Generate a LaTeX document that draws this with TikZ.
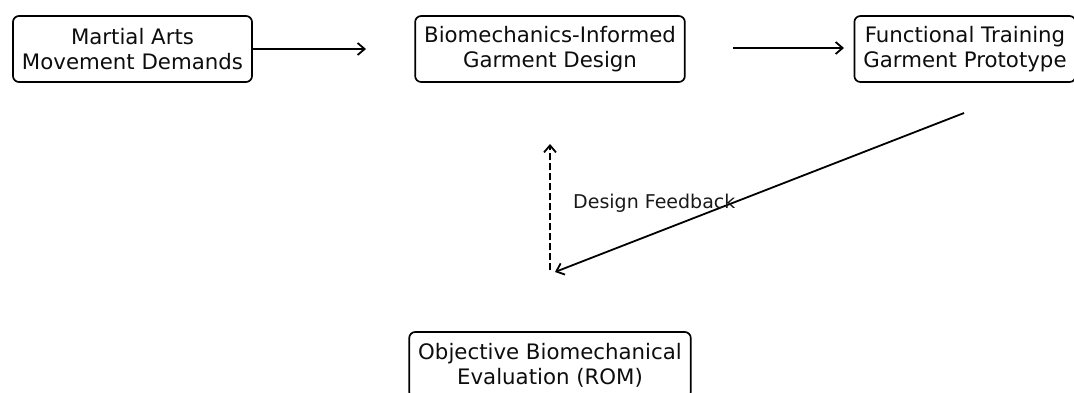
\documentclass[tikz,border=0pt]{standalone}
\usepackage{fontspec}
\setmainfont{DejaVu Sans}
\usetikzlibrary{arrows.meta}
\tikzset{
  box/.style={draw, line width=1.7pt, rounded corners=6pt, align=center,
    minimum height=66pt, inner xsep=9pt, inner ysep=4pt,
    font=\fontsize{21.3}{25}\selectfont, text=black!95},
  flow/.style={line width=1.8pt, -{Straight Barb[length=7pt,width=12pt,line width=1.8pt]}},
  feedback/.style={flow, dash pattern=on 7pt off 3pt},
  lbl/.style={font=\fontsize{19}{22}\selectfont, text=black!90, inner sep=0pt}
}
\begin{document}
\begin{tikzpicture}[x=1pt,y=-1pt]
\useasboundingbox (0,0) rectangle (1074,392);
\node[box] (mad) at (132.5,49) {Martial Arts\\Movement Demands};
\node[box] (bgd) at (550,49) {Biomechanics-Informed\\Garment Design};
\node[box] (ftp) at (965,49) {Functional Training\\Garment Prototype};
\node[box] (obe) at (550,365) {Objective Biomechanical\\Evaluation (ROM)};
\coordinate (a1e) at (366,49);
\coordinate (a2s) at (733,48);
\coordinate (a2e) at (844,48);
\coordinate (ds) at (964,113);
\coordinate (de) at (555,272);
\coordinate (fs) at (550,270);
\coordinate (fe) at (550,144);
\draw[flow] (mad.east) -- (a1e);
\draw[flow] (a2s) -- (a2e);
\draw[flow] (ds) -- (de);
\draw[feedback] (fs) -- (fe);
\node[lbl, anchor=base west] (fb) at (573,208) {Design Feedback};
\end{tikzpicture}
\end{document}
